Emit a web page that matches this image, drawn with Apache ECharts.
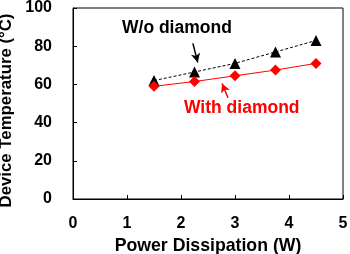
<!DOCTYPE html>
<html><head><meta charset="utf-8">
<script src="https://cdn.jsdelivr.net/npm/echarts@6/dist/echarts.min.js"></script>
<style>html,body{margin:0;padding:0;background:#fff}#c{width:350px;height:254px}</style>
</head><body><div id="c"></div>
<script>
const power = [1.5, 2.25, 3, 3.75, 4.5];
const woDiamond = [62, 66.5, 71, 77, 83];
const withDiamond = [59, 61.5, 64.5, 67.5, 71];
const xTicks = [0, 1, 2, 3, 4, 5];
const yTicks = [0, 20, 40, 60, 80, 100];

const font = 'Arial, "Liberation Sans", sans-serif';
const chart = echarts.init(document.getElementById('c'), null, {renderer: 'canvas'});
chart.setOption({
  animation: false,
  grid: {left: 73, right: 7, top: 8, bottom: 55, show: true, borderColor: '#000', borderWidth: 1, outerBoundsMode: 'none', containLabel: false},
  xAxis: {
    type: 'value', min: xTicks[0], max: xTicks[xTicks.length - 1], interval: 1,
    name: 'Power Dissipation (W)', nameLocation: 'middle', nameGap: 35,
    nameTextStyle: {fontFamily: font, fontWeight: 'bold', fontSize: 17.7, color: '#000'},
    axisLine: {lineStyle: {color: '#000', width: 1}},
    axisTick: {inside: true, length: 4, lineStyle: {color: '#000'}},
    axisLabel: {fontFamily: font, fontWeight: 'bold', fontSize: 16, color: '#000', margin: 17},
    splitLine: {show: false}
  },
  yAxis: {
    type: 'value', min: yTicks[0], max: yTicks[yTicks.length - 1], interval: 20,
    name: 'Device Temperature (°C)', nameLocation: 'middle', nameGap: 41,
    nameTextStyle: {fontFamily: font, fontWeight: 'bold', fontSize: 16.8, color: '#000', padding: [0, 14, 0, 0]},
    axisLine: {lineStyle: {color: '#000', width: 1}},
    axisTick: {inside: true, length: 4, lineStyle: {color: '#000'}},
    axisLabel: {fontFamily: font, fontWeight: 'bold', fontSize: 16, color: '#000', margin: 21},
    splitLine: {show: false}
  },
  series: [
    {
      type: 'line', data: power.map((x, i) => [x, woDiamond[i]]),
      symbol: 'triangle', symbolSize: 11,
      lineStyle: {color: '#000', width: 1, type: [3, 2]},
      itemStyle: {color: '#000'},
      markLine: {
        silent: true, symbol: ['none', 'arrow'], symbolSize: [7, 9],
        lineStyle: {color: '#000', width: 1.5, type: 'solid'}, label: {show: false},
        data: [[{coord: [2.22, 81.5]}, {coord: [2.31, 71.5]}]]
      }
    },
    {
      type: 'line', data: power.map((x, i) => [x, withDiamond[i]]),
      symbol: 'diamond', symbolSize: 11,
      lineStyle: {color: '#ff0000', width: 1},
      itemStyle: {color: '#ff0000'},
      markLine: {
        silent: true, symbol: ['none', 'arrow'], symbolSize: [7, 9],
        lineStyle: {color: '#ff0000', width: 1.5, type: 'solid'}, label: {show: false},
        data: [[{coord: [2.87, 53]}, {coord: [2.76, 60.5]}]]
      }
    }
  ],
  graphic: [
    {type: 'text', left: 122, top: 19, style: {text: 'W/o diamond', fill: '#000', font: 'bold 17.5px ' + font}},
    {type: 'text', left: 184, top: 99, style: {text: 'With diamond', fill: '#ff0000', font: 'bold 17.5px ' + font}}
  ]
});
</script></body></html>
